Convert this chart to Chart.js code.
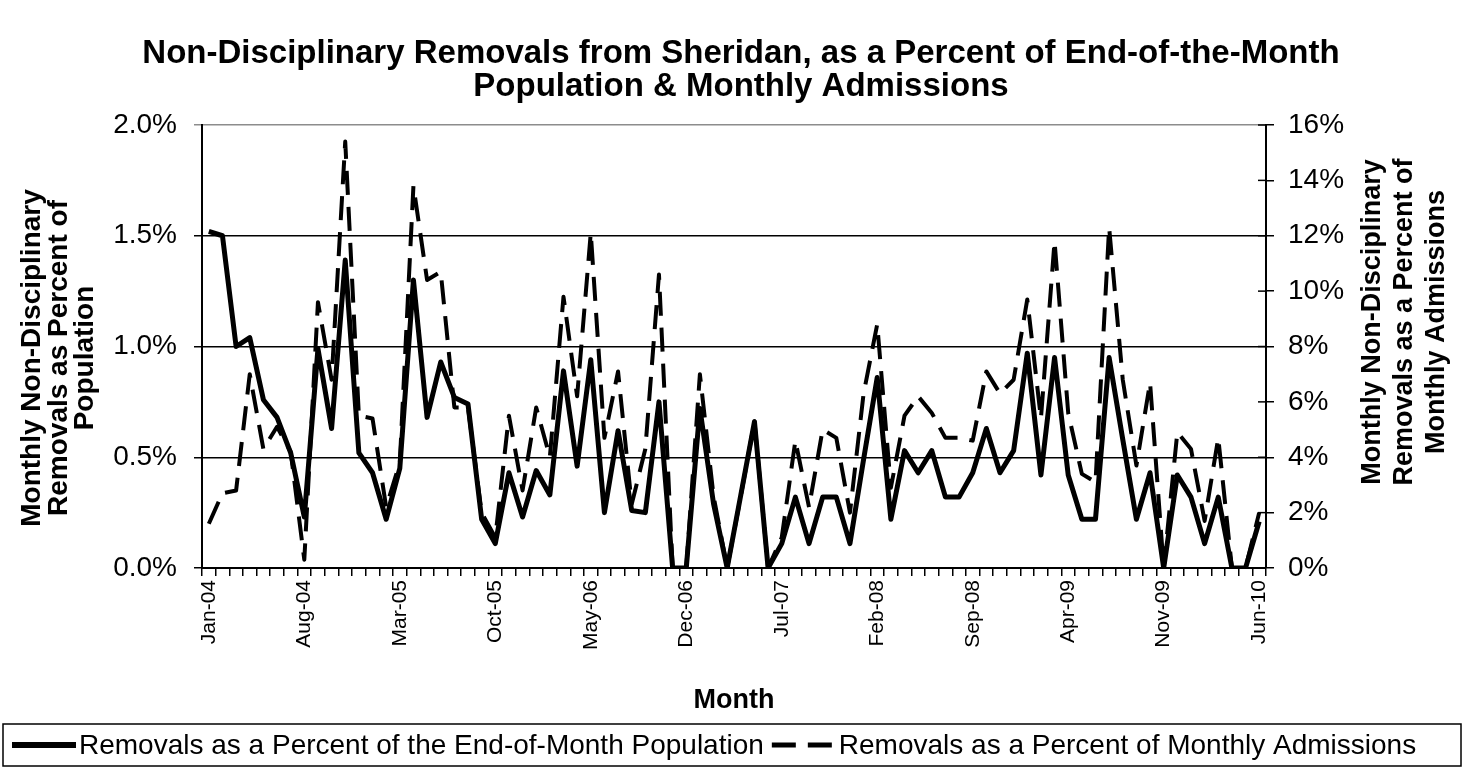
<!DOCTYPE html>
<html>
<head>
<meta charset="utf-8">
<script src="https://cdn.jsdelivr.net/npm/chart.js@4.4.1/dist/chart.umd.min.js"></script>
<style>
  html, body { margin: 0; padding: 0; background: #fff; }
</style>
</head>
<body>
<canvas id="chart" width="1465" height="774"></canvas>
<script>
// months on the category axis
const months = [
  'Jan-04','Feb-04','Mar-04','Apr-04','May-04','Jun-04','Jul-04','Aug-04','Sep-04','Oct-04','Nov-04','Dec-04',
  'Jan-05','Feb-05','Mar-05','Apr-05','May-05','Jun-05','Jul-05','Aug-05','Sep-05','Oct-05','Nov-05','Dec-05',
  'Jan-06','Feb-06','Mar-06','Apr-06','May-06','Jun-06','Jul-06','Aug-06','Sep-06','Oct-06','Nov-06','Dec-06',
  'Jan-07','Feb-07','Mar-07','Apr-07','May-07','Jun-07','Jul-07','Aug-07','Sep-07','Oct-07','Nov-07','Dec-07',
  'Jan-08','Feb-08','Mar-08','Apr-08','May-08','Jun-08','Jul-08','Aug-08','Sep-08','Oct-08','Nov-08','Dec-08',
  'Jan-09','Feb-09','Mar-09','Apr-09','May-09','Jun-09','Jul-09','Aug-09','Sep-09','Oct-09','Nov-09','Dec-09',
  'Jan-10','Feb-10','Mar-10','Apr-10','May-10','Jun-10'
];

// labels actually printed under the axis
const shownMonths = ['Jan-04','Aug-04','Mar-05','Oct-05','May-06','Dec-06','Jul-07','Feb-08','Sep-08','Apr-09','Nov-09','Jun-10'];

// removals as % of end-of-month population (left axis)
const popPct = [
  1.52, 1.50, 1.00, 1.04, 0.76, 0.68, 0.52, 0.23, 0.99, 0.63, 1.39, 0.52,
  0.43, 0.22, 0.45, 1.30, 0.68, 0.93, 0.77, 0.74, 0.22, 0.11, 0.43, 0.23,
  0.44, 0.33, 0.89, 0.46, 0.94, 0.25, 0.62, 0.26, 0.25, 0.75, 0.00, 0.00,
  0.72, 0.29, 0.00, 0.33, 0.66, 0.00, 0.11, 0.32, 0.11, 0.32, 0.32, 0.11,
  0.49, 0.86, 0.22, 0.53, 0.43, 0.53, 0.32, 0.32, 0.43, 0.63, 0.43, 0.53,
  0.97, 0.42, 0.95, 0.42, 0.22, 0.22, 0.95, 0.58, 0.22, 0.43, 0.00, 0.42,
  0.32, 0.11, 0.32, 0.00, 0.00, 0.21
];

// removals as % of monthly admissions (right axis)
const admPct = [
  1.6, 2.7, 2.8, 7.0, 4.3, 5.1, 4.2, 0.3, 9.6, 6.8, 15.4, 5.5,
  5.4, 2.2, 3.8, 13.8, 10.4, 10.7, 5.8, 5.8, 2.0, 1.1, 5.5, 2.8,
  5.8, 4.0, 9.8, 6.2, 12.1, 4.7, 7.1, 2.3, 4.3, 10.6, 0.0, 0.0,
  7.0, 2.6, 0.0, 2.6, 5.3, 0.0, 1.1, 4.6, 2.2, 5.0, 4.7, 2.0,
  6.3, 8.8, 2.9, 5.5, 6.2, 5.6, 4.7, 4.7, 4.6, 7.1, 6.3, 6.8,
  9.7, 5.4, 11.8, 5.6, 3.4, 3.1, 12.3, 6.8, 3.7, 6.7, 0.0, 4.9,
  4.3, 1.7, 4.7, 0.0, 0.0, 2.0
];

const FONT = 'Arial, "Liberation Sans", sans-serif';
const DASH = [24, 12];

Chart.defaults.font.family = FONT;
Chart.defaults.color = '#000';

// axis titles (both read bottom-to-top) + boxed legend
const decor = {
  id: 'decor',
  afterDraw(chart) {
    const ctx = chart.ctx;
    const area = chart.chartArea;

    // inner half of the right-axis tick marks
    const y2 = chart.scales.y2;
    ctx.save();
    ctx.strokeStyle = '#000';
    ctx.lineWidth = 1.5;
    y2.ticks.forEach(t => {
      const py = y2.getPixelForValue(t.value);
      ctx.beginPath();
      ctx.moveTo(area.right - 8, py);
      ctx.lineTo(area.right, py);
      ctx.stroke();
    });
    ctx.restore();

    const rotated = (lines, cx, cy, gap, size) => {
      ctx.save();
      ctx.translate(cx, cy);
      ctx.rotate(-Math.PI / 2);
      ctx.font = 'bold ' + size + 'px ' + FONT;
      ctx.fillStyle = '#000';
      ctx.textAlign = 'center';
      ctx.textBaseline = 'middle';
      lines.forEach((t, i) => ctx.fillText(t, 0, (i - (lines.length - 1) / 2) * gap));
      ctx.restore();
    };
    rotated(['Monthly Non-Disciplinary', 'Removals as Percent of', 'Population'], 59, 358, 26.5, 28);
    rotated(['Monthly Non-Disciplinary', 'Removals as a Percent of', 'Monthly Admissions'], 1405, 322, 32, 27);

    // legend
    const box = { left: 3, top: 724, right: 1461, bottom: 766 };
    const midY = (box.top + box.bottom) / 2;
    ctx.save();
    ctx.strokeStyle = '#000';
    ctx.lineWidth = 1.5;
    ctx.strokeRect(box.left, box.top, box.right - box.left, box.bottom - box.top);
    ctx.font = '28px ' + FONT;
    ctx.fillStyle = '#000';
    ctx.textBaseline = 'middle';
    let x = 12;
    chart.data.datasets.forEach(ds => {
      ctx.beginPath();
      ctx.lineWidth = ds.borderWidth + 1;
      ctx.setLineDash(ds.borderDash || []);
      ctx.moveTo(x, midY);
      ctx.lineTo(x + 64, midY);
      ctx.stroke();
      ctx.setLineDash([]);
      x += 67;
      ctx.fillText(ds.label, x, midY + 1);
      x += ctx.measureText(ds.label).width + 8;
    });
    ctx.restore();
  }
};

new Chart(document.getElementById('chart'), {
  type: 'line',
  data: {
    labels: months,
    datasets: [
      {
        label: 'Removals as a Percent of the End-of-Month Population',
        data: popPct,
        yAxisID: 'y',
        borderColor: '#000',
        borderWidth: 5,
        borderJoinStyle: 'round',
        pointRadius: 0,
        tension: 0,
        order: 1
      },
      {
        label: 'Removals as a Percent of Monthly Admissions',
        data: admPct,
        yAxisID: 'y2',
        borderColor: '#000',
        borderWidth: 4,
        borderDash: DASH,
        borderJoinStyle: 'round',
        pointRadius: 0,
        tension: 0,
        order: 0
      }
    ]
  },
  options: {
    responsive: false,
    animation: false,
    devicePixelRatio: 1,
    layout: { padding: { left: 17, right: 0, top: 0, bottom: 60 } },
    plugins: {
      legend: { display: false },
      tooltip: { enabled: false },
      title: {
        display: true,
        text: ['Non-Disciplinary Removals from Sheridan, as a Percent of End-of-the-Month', 'Population & Monthly Admissions'],
        font: { size: 33, weight: 'bold', lineHeight: 1.0 },
        color: '#000',
        padding: { top: 37, bottom: 22 }
      }
    },
    scales: {
      x: {
        offset: true,
        grid: { offset: true, drawOnChartArea: false, color: '#000', lineWidth: 1.5, tickLength: 8 },
        border: { color: '#000', width: 2 },
        ticks: {
          autoSkip: false,
          maxRotation: 90,
          minRotation: 90,
          padding: 4,
          font: { size: 21 },
          callback: (v, i) => shownMonths.includes(months[i]) ? months[i] : ''
        },
        title: { display: true, text: 'Month', font: { size: 27, weight: 'bold', lineHeight: 1 }, padding: { top: 0, bottom: 0 } },
        afterFit: s => { s.height = 146; }
      },
      y: {
        position: 'left',
        min: 0,
        max: 2,
        grid: {
          color: c => (c.tick && c.tick.value === 2) ? '#8c8c8c' : '#000',
          lineWidth: 1.5,
          tickLength: 8
        },
        border: { color: '#000', width: 2 },
        ticks: { stepSize: 0.5, padding: 17, font: { size: 28 }, callback: v => v.toFixed(1) + '%' },
        afterFit: s => { s.width = 185; }
      },
      y2: {
        position: 'right',
        min: 0,
        max: 16,
        grid: { drawOnChartArea: false, color: '#000', lineWidth: 1.5, tickLength: 8 },
        border: { color: '#000', width: 2 },
        ticks: { stepSize: 2, padding: 14, font: { size: 28 }, callback: v => v + '%' },
        afterFit: s => { s.width = 199; }
      }
    }
  },
  plugins: [decor]
});
</script>
</body>
</html>
